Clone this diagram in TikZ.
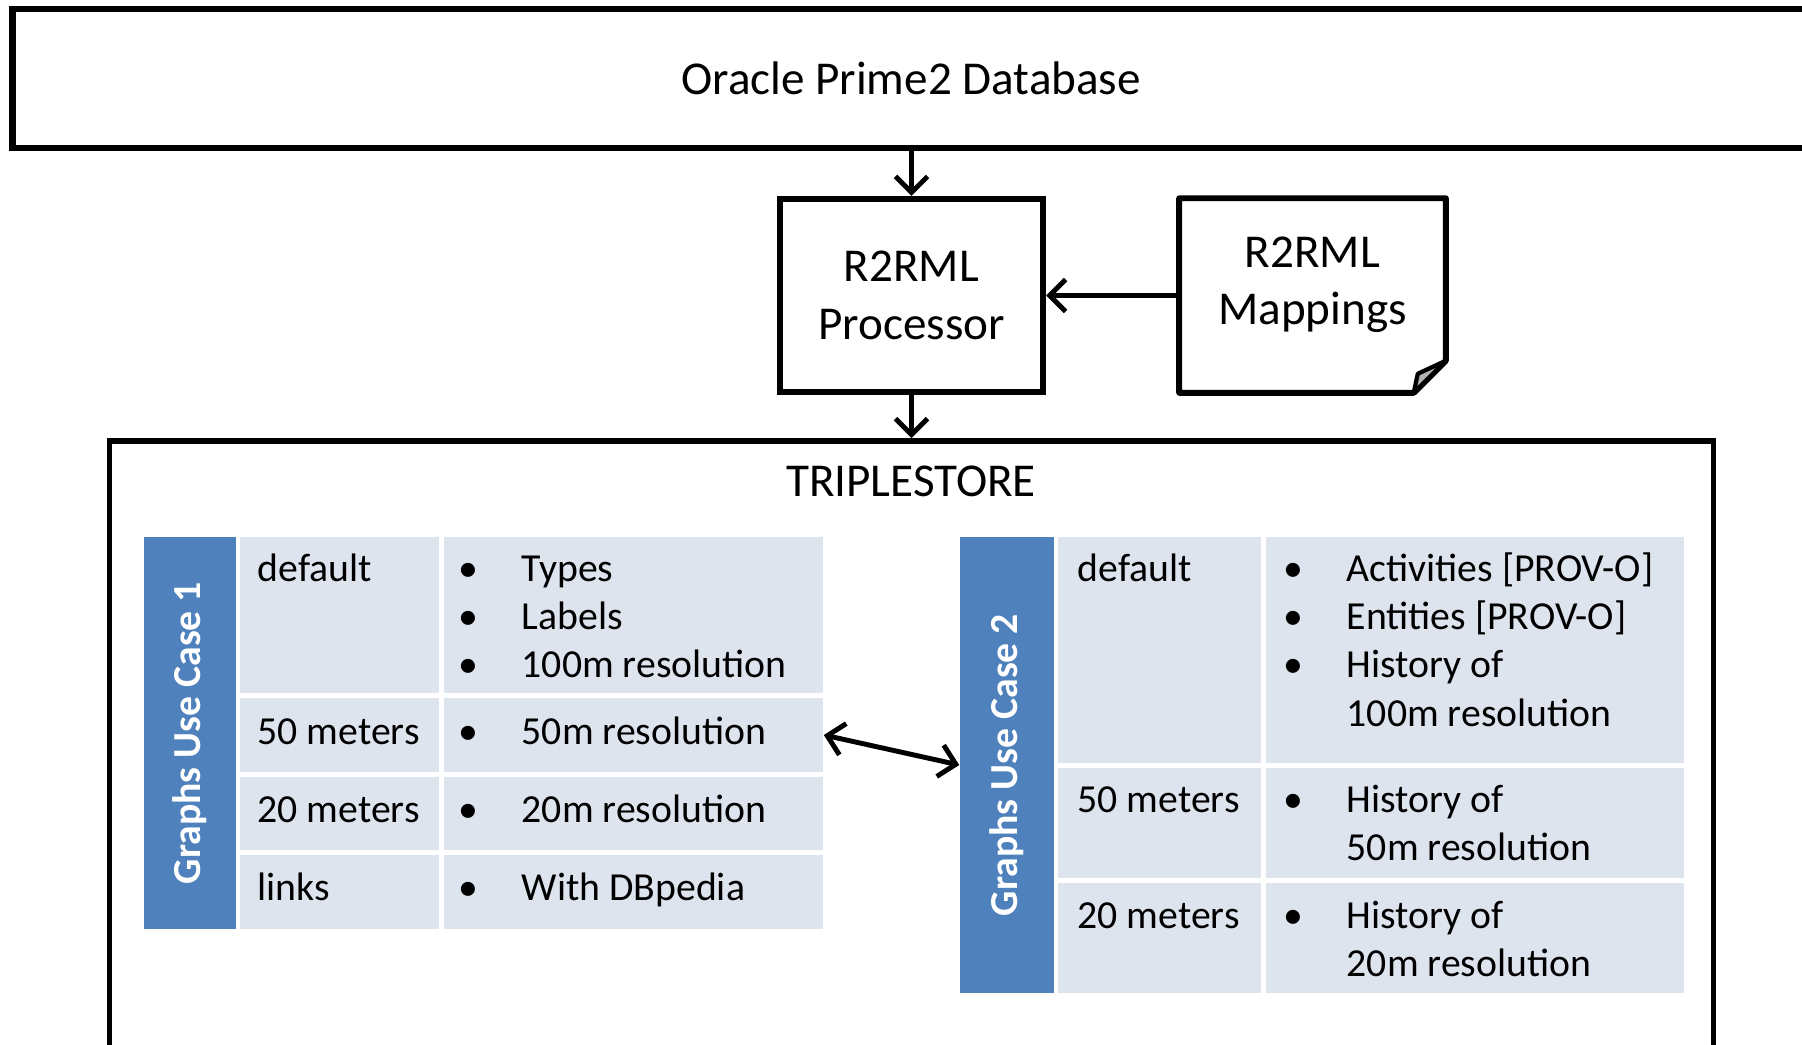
\documentclass[tikz,border=0pt]{standalone}
\usepackage{fontspec}
\setmainfont{Carlito}
\usepackage{tikz}
\usetikzlibrary{arrows.meta}

\definecolor{ucblue}{RGB}{79,129,189}
\definecolor{ucgray}{RGB}{222,228,238}
\newcommand{\bul}{\makebox[0.58cm][l]{\kern-0.05cm•}}

\begin{document}
\begin{tikzpicture}[x=0.01cm,y=-0.01cm,
  box/.style={draw,line width=1.7pt,align=center,font=\fontsize{13.4}{16.3}\selectfont},
  arr/.style={line width=1.4pt,-{Straight Barb[length=1.6mm,width=3.2mm]}},
  darr/.style={line width=1.4pt,{Straight Barb[length=1.6mm,width=3.2mm]}-{Straight Barb[length=1.6mm,width=3.2mm]}},
  cell/.style={fill=ucgray,inner sep=0pt},
  bar/.style={fill=ucblue,inner sep=0pt,text=white,font=\fontsize{11.3}{13.6}\selectfont\bfseries},
  txt/.style={anchor=base west,inner sep=0pt,font=\fontsize{11.3}{13.6}\selectfont}]
  \clip (0,0) rectangle (1802,1045);
  % database, processor and mappings
  \node[box,line width=1.8pt,minimum width=17.96cm,minimum height=1.39cm] (oracle) at (911,78.5) {Oracle Prime2 Database};
  \node[box,minimum width=2.63cm,minimum height=1.93cm] (proc) at (911.5,295.5) {R2RML\\Processor};
  \node[inner sep=0pt,minimum width=2.65cm,minimum height=1.93cm] (map) at (1312.5,295.5) {};
  \node[box,draw=none] (maptxt) at (1312.5,285) {R2RML\\Mappings};
  \draw[line width=1.7pt,line join=round] (map.north west) -- (map.north east) -- ([yshift=0.32cm]map.south east) -- ([xshift=-0.32cm]map.south east) -- (map.south west) -- cycle;
  \filldraw[fill=black!30,line width=1.2pt,line join=round] ([yshift=0.32cm]map.south east) -- ([xshift=-0.28cm,yshift=0.19cm]map.south east) -- ([xshift=-0.32cm]map.south east) -- cycle;
  % triplestore frame
  \node[draw,line width=1.6pt,minimum width=16.03cm,minimum height=6.3cm] (store) at (911.5,756) {};
  \node[font=\fontsize{13.4}{16.3}\selectfont] (storettl) at (911,481) {TRIPLESTORE};
  % use case 1
  \node[bar,minimum width=0.92cm,minimum height=3.92cm] (bar1) at (190,733) {\rotatebox{90}{Graphs Use Case 1}};
  \node[cell,minimum width=1.99cm,minimum height=1.56cm] (ldefk) at (339.5,615) {};
  \node[cell,minimum width=3.79cm,minimum height=1.56cm] (ldefv) at (633.5,615) {};
  \node[cell,minimum width=1.99cm,minimum height=0.74cm] (l50k) at (339.5,735) {};
  \node[cell,minimum width=3.79cm,minimum height=0.74cm] (l50v) at (633.5,735) {};
  \node[cell,minimum width=1.99cm,minimum height=0.73cm] (l20k) at (339.5,813.5) {};
  \node[cell,minimum width=3.79cm,minimum height=0.73cm] (l20v) at (633.5,813.5) {};
  \node[cell,minimum width=1.99cm,minimum height=0.74cm] (llnk) at (339.5,892) {};
  \node[cell,minimum width=3.79cm,minimum height=0.74cm] (llnv) at (633.5,892) {};
  \node[txt] (t1a) at (257,581) {default};
  \node[txt] (t1b) at (463,581) {\bul Types};
  \node[txt] (t1c) at (463,629) {\bul Labels};
  \node[txt] (t1d) at (463,677) {\bul 100m resolution};
  \node[txt] (t1e) at (257,744) {50 meters};
  \node[txt] (t1f) at (463,744) {\bul 50m resolution};
  \node[txt] (t1g) at (257,822) {20 meters};
  \node[txt] (t1h) at (463,822) {\bul 20m resolution};
  \node[txt] (t1i) at (257,900) {links};
  \node[txt] (t1j) at (463,900) {\bul With DBpedia};
  % use case 2
  \node[bar,minimum width=0.94cm,minimum height=4.56cm] (bar2) at (1007,765) {\rotatebox{90}{Graphs Use Case 2}};
  \node[cell,minimum width=2.03cm,minimum height=2.26cm] (rdefk) at (1159.5,650) {};
  \node[cell,minimum width=4.18cm,minimum height=2.26cm] (rdefv) at (1475,650) {};
  \node[cell,minimum width=2.03cm,minimum height=1.10cm] (r50k) at (1159.5,823) {};
  \node[cell,minimum width=4.18cm,minimum height=1.10cm] (r50v) at (1475,823) {};
  \node[cell,minimum width=2.03cm,minimum height=1.10cm] (r20k) at (1159.5,938) {};
  \node[cell,minimum width=4.18cm,minimum height=1.10cm] (r20v) at (1475,938) {};
  \node[txt] (t2a) at (1077,581) {default};
  \node[txt] (t2b) at (1288,581) {\bul Activities [PROV-O]};
  \node[txt] (t2c) at (1288,629) {\bul Entities [PROV-O]};
  \node[txt] (t2d) at (1288,677) {\bul History of};
  \node[txt] (t2e) at (1346,726) {100m resolution};
  \node[txt] (t2f) at (1077,812) {50 meters};
  \node[txt] (t2g) at (1288,812) {\bul History of};
  \node[txt] (t2h) at (1346,860) {50m resolution};
  \node[txt] (t2i) at (1077,928) {20 meters};
  \node[txt] (t2j) at (1288,928) {\bul History of};
  \node[txt] (t2k) at (1346,976) {20m resolution};
  % connectors
  \draw[arr] (oracle.south -| proc.north) -- (proc.north);
  \draw[arr] (map.west) -- (proc.east);
  \draw[arr] (proc.south) -- (proc.south |- store.north);
  \draw[darr] (l50v.east) -- (bar2.west);
\end{tikzpicture}
\end{document}
